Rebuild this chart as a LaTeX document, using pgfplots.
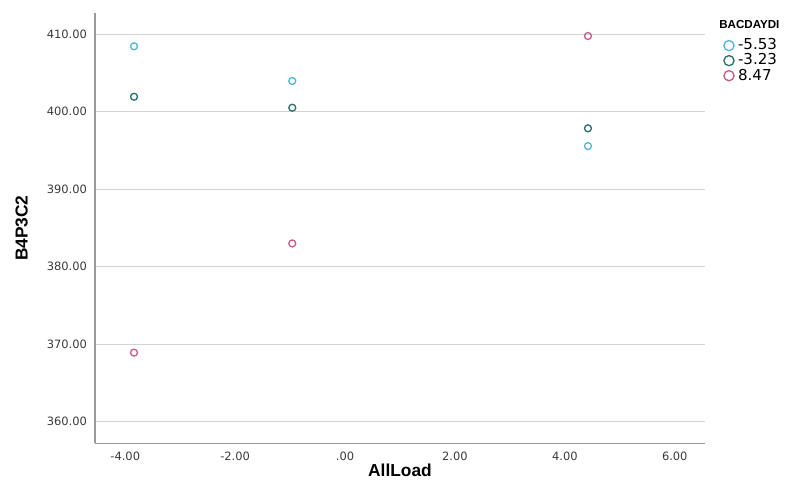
\documentclass[border=0pt]{standalone}
\usepackage{pgfplots}
\pgfplotsset{compat=1.18}
\usepackage{fontspec}
\setmainfont{Liberation Sans}
\newfontfamily\dejavu{DejaVu Sans}
\definecolor{cA}{HTML}{52B5D6}
\definecolor{cB}{HTML}{2B6F6B}
\definecolor{cC}{HTML}{C25E8C}
\definecolor{gridc}{HTML}{D2D2D2}
\definecolor{axc}{HTML}{9A9A9A}
\definecolor{tickc}{HTML}{3A3A3A}
\begin{document}
\begin{tikzpicture}
\begin{axis}[
  scale only axis, width=457.5pt, height=322.7pt,
  xmin=-4.55, xmax=6.55, ymin=357.2, ymax=412.75,
  axis x line*=bottom, axis y line*=left,
  axis line style={draw=axc, line width=1.1pt, -},
  xtick={-4,-2,0,2,4,6},
  xticklabels={-4.00,-2.00,.00,2.00,4.00,6.00},
  ytick={360,370,380,390,400,410},
  yticklabels={360.00,370.00,380.00,390.00,400.00,410.00},
  major tick length=0pt,
  ymajorgrids, grid style={draw=gridc, line width=0.9pt},
  /pgf/number format/assume math mode=true,
  tick label style={font=\dejavu\fontsize{8.6}{10}\selectfont, text=tickc},
  yticklabel style={anchor=east, xshift=-2.5pt},
  xticklabel style={anchor=north, yshift=-3pt},
  xlabel={AllLoad},
  xlabel style={font=\bfseries\fontsize{13}{15}\selectfont, at={([yshift=-20pt]axis description cs:0.5,0)}, anchor=center},
  ylabel={B4P3C2},
  ylabel style={font=\bfseries\fontsize{13}{15}\selectfont, at={([xshift=-55pt]axis description cs:0,0.5)}, anchor=center},
  legend image code/.code={\draw[#1, mark size=3.8pt] plot coordinates {(0pt,0pt)};},
  legend style={at={(rel axis cs:1,1)}, anchor=north west, xshift=14pt, yshift=-19pt,
    draw=none, fill=none, font=\dejavu\fontsize{11.3}{12}\selectfont, inner sep=0pt,
    row sep=0.8pt, column sep=2.5pt,
    nodes={inner sep=0.5pt, text height=8pt, text depth=1.5pt}},
  legend cell align=left,
]
\addplot[only marks, mark=o, mark size=2.6pt, color=cA, mark options={line width=1pt}]
  coordinates {(-3.84,408.45) (-0.96,403.97) (4.42,395.57)};
\addlegendentry{-5.53}
\addplot[only marks, mark=o, mark size=2.6pt, color=cB, mark options={line width=1pt}]
  coordinates {(-3.84,401.94) (-0.96,400.52) (4.42,397.86)};
\addlegendentry{-3.23}
\addplot[only marks, mark=o, mark size=2.6pt, color=cC, mark options={line width=1pt}]
  coordinates {(-3.84,368.9) (-0.96,383.0) (4.42,409.78)};
\addlegendentry{8.47}
\coordinate (bl) at (rel axis cs:0,0);
\coordinate (tr) at (rel axis cs:1,1);
\end{axis}
\node[anchor=west, font=\bfseries\fontsize{8.7}{10}\selectfont, inner sep=0pt] at ([xshift=10.5pt,yshift=-9pt]tr) {BACDAYDI};
\pgfresetboundingbox
\path ([xshift=-71.25pt,yshift=-34.3pt]bl) rectangle ++(589.5pt,366.75pt);
\end{tikzpicture}
\end{document}
